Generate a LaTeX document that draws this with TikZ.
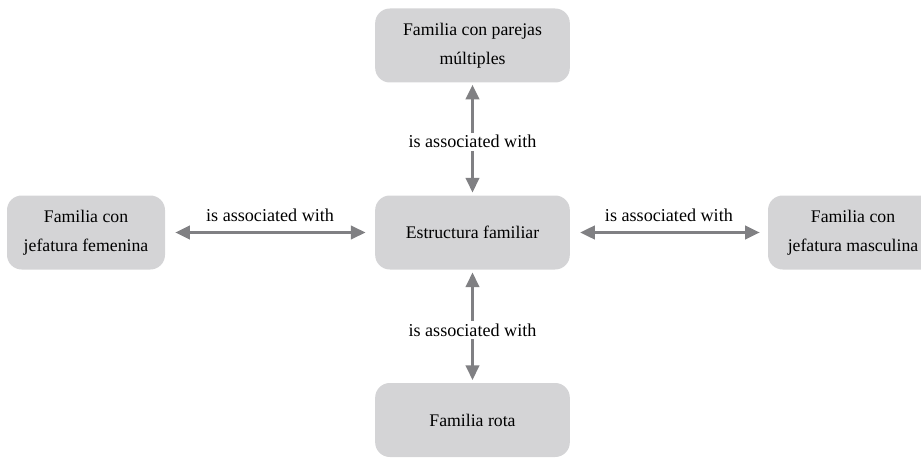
\documentclass[tikz,border=0pt]{standalone}
\usepackage{fontspec}
\setmainfont{Liberation Serif}
\usepackage{tikz}
\usetikzlibrary{
  positioning,
  arrows.meta
}
\usepackage{xcolor}
\definecolor{boxfill}{HTML}{D4D4D6}
\definecolor{link}{HTML}{808083}

\begin{document}
\begin{tikzpicture}[
  x=0.75pt, y=0.75pt,
  cbox/.style={fill=boxfill, rounded corners=11pt, minimum width=146pt, minimum height=55.5pt,
               align=center, inner sep=2pt, font=\fontsize{13.3}{22}\selectfont},
  arr/.style={{Triangle[length=11pt, width=10pt]}-{Triangle[length=11pt, width=10pt]},
              draw=link, line width=2.2pt},
  lbl/.style={fill=white, inner sep=2pt, font=\fontsize{13.6}{16}\selectfont},
]
  \useasboundingbox (0,0) rectangle (921,458);

  % Boxes
  \node[cbox] (mid) at (472.5, 225.5) {Estructura familiar};
  \node[cbox] (top) at (472.5, 412.5) {Familia con parejas\\múltiples};
  \node[cbox] (bot) at (472.5, 38) {Familia rota};
  \node[cbox, minimum width=118.5pt] (fem) at (86, 225.5) {Familia con\\jefatura femenina};
  \node[cbox, minimum width=127.5pt] (mas) at (853, 225.5) {Familia con\\jefatura masculina};

  % Links
  \draw[arr, shorten <=1.5pt, shorten >=2pt] (top) -- node[lbl, yshift=-2pt] {is associated with} (mid);
  \draw[arr, shorten <=2pt, shorten >=2pt] (mid) -- node[lbl, yshift=-3pt] {is associated with} (bot);
  \draw[arr, shorten <=7.5pt, shorten >=7pt] (fem) -- node[lbl, above=5pt] {is associated with} (mid);
  \draw[arr, shorten <=7.5pt, shorten >=6pt] (mid) -- node[lbl, above=5pt] {is associated with} (mas);
\end{tikzpicture}
\end{document}
